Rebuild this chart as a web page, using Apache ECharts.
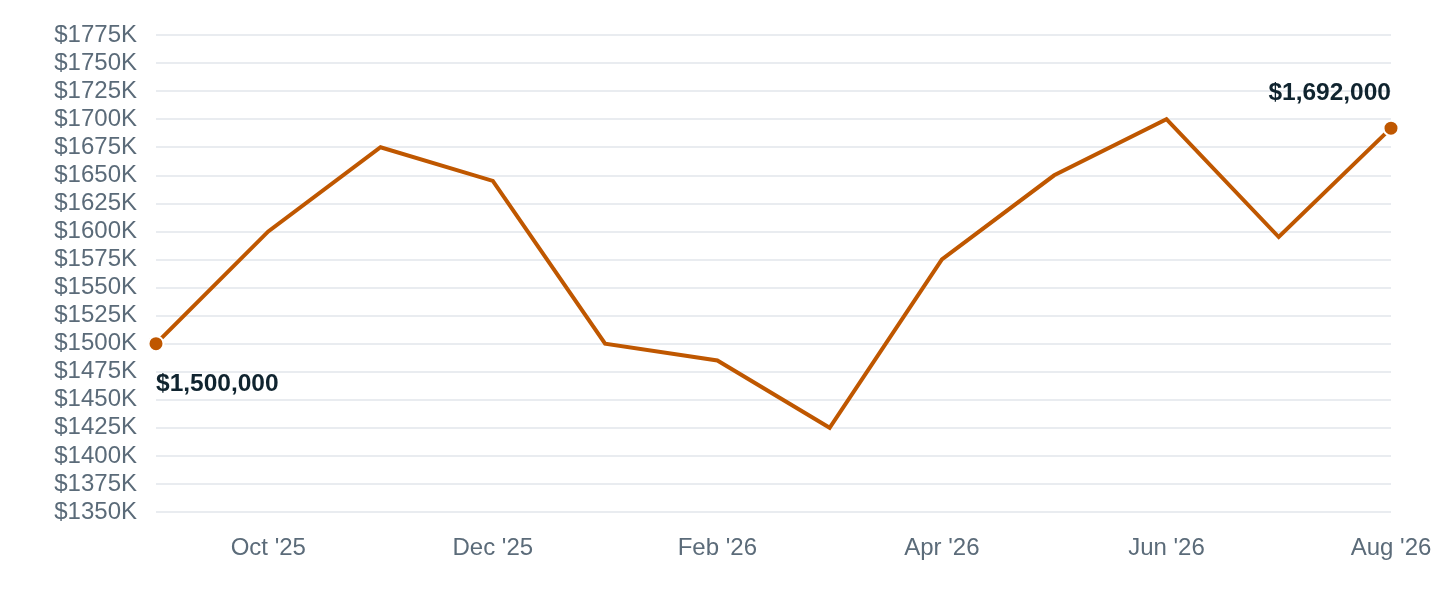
<!DOCTYPE html>
<html>
<head>
<meta charset="utf-8">
<script src="https://cdn.jsdelivr.net/npm/echarts@6/dist/echarts.min.js"></script>
<style>
  html, body { margin: 0; padding: 0; background: #fff; }
  #chart { width: 1440px; height: 600px; }
</style>
</head>
<body>
<div id="chart"></div>
<script>
// monthly values, Sep '25 .. Aug '26
const months = ["Sep '25", "Oct '25", "Nov '25", "Dec '25", "Jan '26", "Feb '26",
                "Mar '26", "Apr '26", "May '26", "Jun '26", "Jul '26", "Aug '26"];
const values = [1500000, 1600000, 1675000, 1645000, 1500000, 1485000,
                1425000, 1575000, 1650000, 1700000, 1595000, 1692000];
const yTicks = { min: 1350000, max: 1775000, step: 25000 };

const font = "'Liberation Sans', Helvetica, Arial, sans-serif";
const lineColor = '#bf5700';

const fmtMoney = (v) => '$' + v.toLocaleString('en-US');

// only the first and last points get a dot + label
const seriesData = values.map((v, i) => {
  if (i === 0) {
    return {
      value: v,
      symbol: 'circle',
      label: { show: true, position: 'bottom', align: 'left', distance: 20 },
    };
  }
  if (i === values.length - 1) {
    return {
      value: v,
      symbol: 'circle',
      label: { show: true, position: 'top', align: 'right', distance: 14 },
    };
  }
  return { value: v, symbol: 'none' };
});

const chart = echarts.init(document.getElementById('chart'));

chart.setOption({
  backgroundColor: '#ffffff',
  animation: false,
  grid: { left: 156, right: 49, top: 35, bottom: 88 },
  xAxis: {
    type: 'category',
    data: months,
    boundaryGap: false,
    axisLine: { show: false },
    axisTick: { show: false },
    splitLine: { show: false },
    axisLabel: {
      interval: (i) => i % 2 === 1,
      color: '#5b6b79',
      fontSize: 24,
      fontFamily: font,
      margin: 24,
    },
  },
  yAxis: {
    type: 'value',
    min: yTicks.min,
    max: yTicks.max,
    interval: yTicks.step,
    axisLine: { show: false },
    axisTick: { show: false },
    splitLine: { lineStyle: { color: '#e2e6eb', width: 1.5 } },
    axisLabel: {
      color: '#5b6b79',
      fontSize: 24,
      fontFamily: font,
      margin: 19,
      formatter: (v) => '$' + v / 1000 + 'K',
    },
  },
  series: [
    {
      type: 'line',
      data: seriesData,
      showSymbol: true,
      symbolSize: 15,
      itemStyle: { color: lineColor, borderColor: '#ffffff', borderWidth: 2 },
      lineStyle: { color: lineColor, width: 4, join: 'miter' },
      label: {
        color: '#10242f',
        fontSize: 24.5,
        fontWeight: 'bold',
        fontFamily: font,
        formatter: (p) => fmtMoney(p.value),
      },
      emphasis: { disabled: true },
    },
  ],
});
</script>
</body>
</html>
